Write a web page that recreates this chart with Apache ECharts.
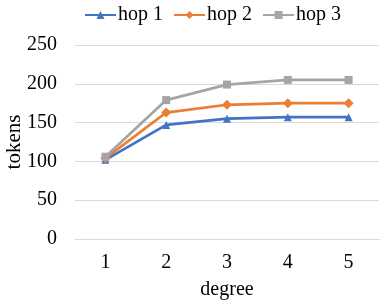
<!DOCTYPE html>
<html><head><meta charset="utf-8">
<script src="https://cdn.jsdelivr.net/npm/echarts@6/dist/echarts.min.js"></script>
<style>html,body{margin:0;padding:0;background:#fff}#c{width:383px;height:303px}</style>
</head><body><div id="c"></div>
<script>
const categories = ['1','2','3','4','5'];
const hop1 = [102, 147, 155, 157, 157];
const hop2 = [104, 163, 173, 175, 175];
const hop3 = [106, 179, 199, 205, 205];
const seriesNames = ['hop 1','hop 2','hop 3'];
const colors = ['#4472C4','#ED7D31','#A5A5A5'];
const symbols = ['triangle','diamond','rect'];
const font = '"Liberation Serif","Times New Roman",serif';
const chart = echarts.init(document.getElementById('c'));
const data = [hop1, hop2, hop3];
chart.setOption({
  animation: false,
  textStyle: {fontFamily: font},
  legend: {
    top: 0, left: 79, itemWidth: 31, itemHeight: 10, itemGap: 10,
    textStyle: {fontFamily: font, fontSize: 20, color: '#000', padding: [0,0,0,-3]},
    data: seriesNames
  },
  grid: {left: 75, right: 4, top: 45, bottom: 64, outerBoundsMode: 'none', containLabel: false},
  xAxis: {
    type: 'category', data: categories, boundaryGap: true,
    name: 'degree', nameLocation: 'middle', nameGap: 41, nameMoveOverlap: false,
    nameTextStyle: {fontFamily: font, fontSize: 20, color: '#000'},
    axisLine: {show: true, lineStyle: {color: '#d9d9d9'}},
    axisTick: {show: false},
    axisLabel: {fontFamily: font, fontSize: 20, color: '#000', margin: 14}
  },
  yAxis: {
    type: 'value', min: 0, max: 250, interval: 50,
    name: 'tokens', nameLocation: 'middle', nameGap: 50, nameRotate: 90, nameMoveOverlap: false,
    nameTextStyle: {fontFamily: font, fontSize: 21, color: '#000'},
    axisLine: {show: false}, axisTick: {show: false},
    splitLine: {lineStyle: {color: '#d9d9d9', width: 1}},
    axisLabel: {fontFamily: font, fontSize: 20, color: '#000', margin: 18}
  },
  series: data.map((d, i) => ({
    name: seriesNames[i], type: 'line', data: d,
    symbol: symbols[i], symbolSize: i === 1 ? 10 : 8, showAllSymbol: true,
    itemStyle: {color: colors[i]},
    lineStyle: {color: colors[i], width: 2.75}
  }))
});
</script></body></html>
